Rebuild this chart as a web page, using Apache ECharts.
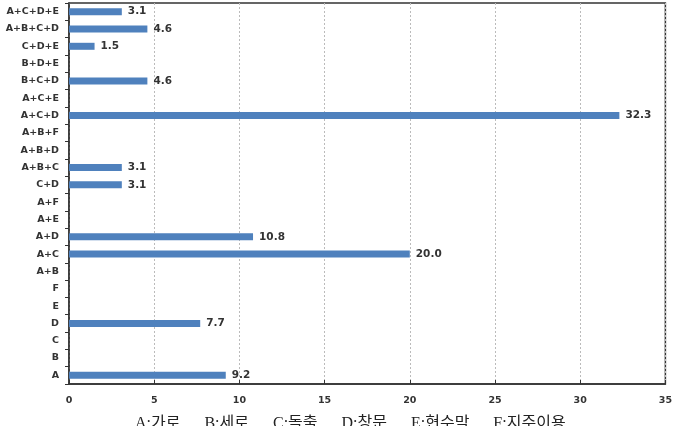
<!DOCTYPE html>
<html>
<head>
<meta charset="utf-8">
<script src="https://cdn.jsdelivr.net/npm/echarts@6/dist/echarts.min.js"></script>
<style>
  html, body { margin: 0; padding: 0; background: #fff; }
  #chart { width: 675px; height: 426px; }
</style>
</head>
<body>
<div id="chart"></div>
<script>
// 카테고리 (아래에서 위로)
const categories = ['A', 'B', 'C', 'D', 'E', 'F', 'A+B', 'A+C', 'A+D', 'A+E', 'A+F',
  'C+D', 'A+B+C', 'A+B+D', 'A+B+F', 'A+C+D', 'A+C+E', 'B+C+D', 'B+D+E', 'C+D+E',
  'A+B+C+D', 'A+C+D+E'];
// 값 (%)
const values = [9.2, 0, 0, 7.7, 0, 0, 0, 20.0, 10.8, 0, 0,
  3.1, 3.1, 0, 0, 32.3, 0, 4.6, 0, 1.5, 4.6, 3.1];
// x축 눈금
const xTicks = [0, 5, 10, 15, 20, 25, 30, 35];
// 범례 설명
const keys = ['A:가로', 'B:세로', 'C:돌출', 'D:창문', 'E:현수막', 'F:지주이용'];

const chart = echarts.init(document.getElementById('chart'));

chart.setOption({
  animation: false,
  grid: {
    left: 69, right: 6, top: 3, bottom: 42,
    show: true,
    borderColor: '#333',
    borderWidth: 1.5
  },
  xAxis: {
    type: 'value',
    min: xTicks[0],
    max: xTicks[xTicks.length - 1],
    interval: 5,
    axisLine: { show: true, lineStyle: { color: '#333', width: 1.5 } },
    axisTick: { show: true, length: 4, inside: true, lineStyle: { color: '#333' } },
    axisLabel: { color: '#333', fontFamily: 'DejaVu Sans', fontWeight: 'bold', fontSize: 9.5, margin: 12 },
    splitLine: { show: true, lineStyle: { color: '#bbb', type: [2, 2] } }
  },
  yAxis: {
    type: 'category',
    data: categories,
    axisLine: { show: true, lineStyle: { color: '#333', width: 1.5 } },
    axisTick: { show: true, length: 4, lineStyle: { color: '#333' } },
    axisLabel: { color: '#333', fontFamily: 'DejaVu Sans', fontWeight: 'bold', fontSize: 9.5, margin: 10 },
    splitLine: { show: false }
  },
  series: [{
    type: 'bar',
    data: values.map(v => v === 0 ? null : v),
    barWidth: 7,
    itemStyle: { color: '#4f81bd' },
    label: {
      show: true,
      position: 'right',
      distance: 6,
      formatter: p => p.value.toFixed(1),
      color: '#333',
      fontFamily: 'DejaVu Sans',
      fontWeight: 'bold',
      fontSize: 10.5
    }
  }],
  graphic: [{
    type: 'text',
    left: 135,
    top: 416,
    style: {
      text: keys.join('      '),
      fill: '#222',
      fontFamily: '"Liberation Serif", "Noto Sans CJK KR"',
      fontSize: 16
    }
  }]
});
</script>
</body>
</html>
